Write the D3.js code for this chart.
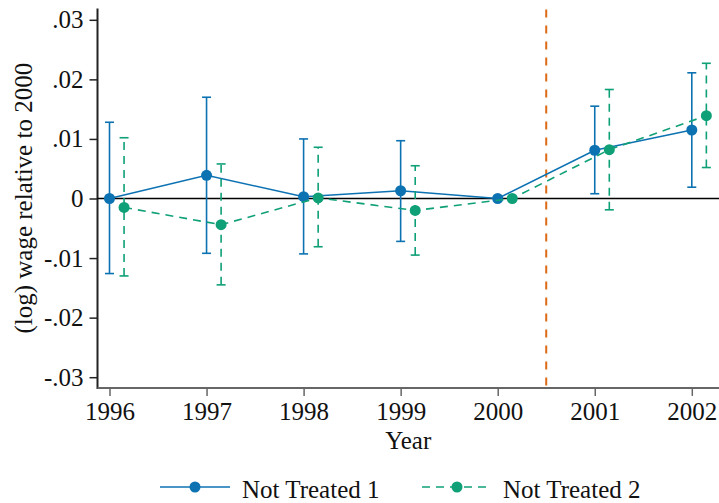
<!DOCTYPE html>
<html>
<head>
<meta charset="utf-8">
<script src="https://cdn.jsdelivr.net/npm/d3@7"></script>
<style>
  html, body { margin: 0; padding: 0; background: #fff; }
  svg { display: block; }
  text { font-family: "Liberation Serif", "Times New Roman", serif; fill: #111; }
</style>
</head>
<body>
<svg id="chart" width="719" height="503"></svg>
<script>
// Event-study estimates of (log) wages relative to the base year 2000
const years = [1996, 1997, 1998, 1999, 2000, 2001, 2002];

const nt1Est   = [0.0000, 0.0039, 0.0003, 0.0013, 0.0000, 0.0081, 0.0115];
const nt1Lower = [-0.0126, -0.0092, -0.0093, -0.0072, 0.0000, 0.0008, 0.0019];
const nt1Upper = [0.0128, 0.0170, 0.0100, 0.0097, 0.0000, 0.0155, 0.0211];

const nt2Est   = [-0.0015, -0.0044, 0.0001, -0.0020, 0.0000, 0.0082, 0.0139];
const nt2Lower = [-0.0130, -0.0145, -0.0081, -0.0095, 0.0000, -0.0019, 0.0052];
const nt2Upper = [0.0102, 0.0058, 0.0086, 0.0055, 0.0000, 0.0183, 0.0227];

const yTicks = [-0.03, -0.02, -0.01, 0, 0.01, 0.02, 0.03];
const yTickLabels = ["-.03", "-.02", "-.01", "0", ".01", ".02", ".03"];
const seriesNames = ["Not Treated 1", "Not Treated 2"];
const treatmentYear = 2000.5;
const offset2 = 0.15; // horizontal shift of the second series

const blue = "#0d72b2", green = "#0fa077", orange = "#dc6b12";

const svg = d3.select("#chart");

const x = d3.scaleLinear().domain([1996, 2002]).range([109.5, 691.8]);
const y = d3.scaleLinear().domain([-0.03, 0.03]).range([377.2, 19.8]);

const plotLeft = 97.5, plotRight = 719, plotTop = y(0.0319), plotBottom = y(-0.0318);

// y axis
const yAxis = svg.append("g").attr("transform", `translate(${plotLeft},0)`)
  .call(d3.axisLeft(y).tickValues(yTicks).tickFormat((d, i) => yTickLabels[i])
        .tickSize(8).tickPadding(6));
yAxis.select(".domain").remove();
yAxis.selectAll(".tick line").attr("stroke", "#222").attr("stroke-width", 1.5);
yAxis.selectAll(".tick text").attr("font-size", 25)
  .attr("font-family", "Liberation Serif").attr("fill", "#111");
svg.append("line").attr("x1", plotLeft).attr("x2", plotLeft)
  .attr("y1", plotTop).attr("y2", plotBottom + 1)
  .attr("stroke", "#222").attr("stroke-width", 2);

// x axis
const xAxis = svg.append("g").attr("transform", `translate(0,${plotBottom})`)
  .call(d3.axisBottom(x).tickValues(years).tickFormat(d3.format("d"))
        .tickSize(8).tickPadding(6));
xAxis.select(".domain").remove();
xAxis.selectAll(".tick line").attr("stroke", "#666").attr("stroke-width", 1.5);
xAxis.selectAll(".tick text").attr("font-size", 25)
  .attr("font-family", "Liberation Serif").attr("fill", "#111");
svg.append("line").attr("x1", plotLeft).attr("x2", plotRight)
  .attr("y1", plotBottom).attr("y2", plotBottom)
  .attr("stroke", "#666").attr("stroke-width", 2);

// axis titles
svg.append("text").attr("x", (plotLeft + plotRight) / 2).attr("y", 449)
  .attr("text-anchor", "middle").attr("font-size", 25).text("Year");
svg.append("text")
  .attr("transform", `translate(32,${(plotTop + plotBottom) / 2}) rotate(-90)`)
  .attr("text-anchor", "middle").attr("font-size", 25)
  .text("(log) wage relative to 2000");

// zero reference line
svg.append("line").attr("x1", plotLeft).attr("x2", plotRight)
  .attr("y1", y(0)).attr("y2", y(0))
  .attr("stroke", "#000").attr("stroke-width", 1.5);

// treatment onset
svg.append("line").attr("x1", x(treatmentYear)).attr("x2", x(treatmentYear))
  .attr("y1", plotTop + 1).attr("y2", plotBottom)
  .attr("stroke", orange).attr("stroke-width", 2).attr("stroke-dasharray", "8,8");

function drawSeries(est, lo, hi, dx, color, dash) {
  const pts = years.map((yr, i) => ({ yr: yr + dx, est: est[i], lo: lo[i], hi: hi[i] }));
  const g = svg.append("g");
  const bars = pts.filter(p => p.hi !== p.lo);
  g.selectAll(".ci").data(bars).join("line")
    .attr("x1", d => x(d.yr)).attr("x2", d => x(d.yr))
    .attr("y1", d => y(d.lo)).attr("y2", d => y(d.hi))
    .attr("stroke", color).attr("stroke-width", 1.6)
    .attr("stroke-dasharray", dash);
  ["lo", "hi"].forEach(k => {
    g.selectAll(".cap-" + k).data(bars).join("line")
      .attr("x1", d => x(d.yr) - 4.5).attr("x2", d => x(d.yr) + 4.5)
      .attr("y1", d => y(d[k])).attr("y2", d => y(d[k]))
      .attr("stroke", color).attr("stroke-width", 1.6);
  });
  g.append("path").datum(pts)
    .attr("d", d3.line().x(d => x(d.yr)).y(d => y(d.est)))
    .attr("fill", "none").attr("stroke", color).attr("stroke-width", 1.6)
    .attr("stroke-dasharray", dash);
  g.selectAll("circle").data(pts).join("circle")
    .attr("cx", d => x(d.yr)).attr("cy", d => y(d.est)).attr("r", 5.5)
    .attr("fill", color);
}

drawSeries(nt1Est, nt1Lower, nt1Upper, 0, blue, null);
drawSeries(nt2Est, nt2Lower, nt2Upper, offset2, green, "8,6");

// legend
const legendItems = [
  { name: seriesNames[0], color: blue, dash: null, x0: 160, x1: 230, tx: 242 },
  { name: seriesNames[1], color: green, dash: "8,6", x0: 422, x1: 492, tx: 503 }
];
const ly = 487;
legendItems.forEach(it => {
  svg.append("line").attr("x1", it.x0).attr("x2", it.x1).attr("y1", ly).attr("y2", ly)
    .attr("stroke", it.color).attr("stroke-width", 1.6).attr("stroke-dasharray", it.dash);
  svg.append("circle").attr("cx", (it.x0 + it.x1) / 2).attr("cy", ly).attr("r", 5.5)
    .attr("fill", it.color);
  svg.append("text").attr("x", it.tx).attr("y", 498).attr("font-size", 25).text(it.name);
});
</script>
</body>
</html>
